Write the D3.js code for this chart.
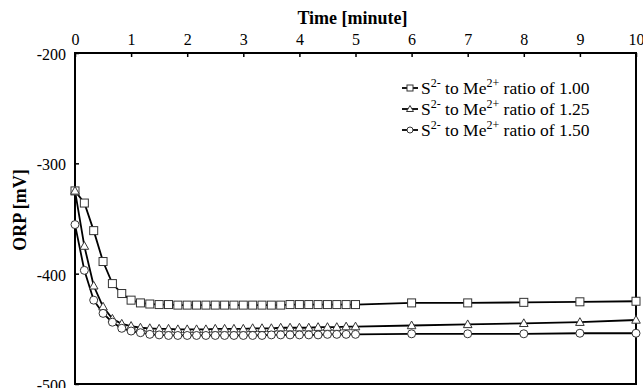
<!DOCTYPE html>
<html>
<head>
<meta charset="utf-8">
<script src="https://cdn.jsdelivr.net/npm/d3@7"></script>
<style>
  body { margin: 0; background: #fff; }
  svg { display: block; font-family: "Liberation Serif", "Times New Roman", serif; }
</style>
</head>
<body>
<svg></svg>
<script>
const width = 643;
const height = 388;

// sampling time in seconds: every 10 s up to 5 min, then every minute
const seconds = [0, 10, 20, 30, 40, 50, 60, 70, 80, 90, 100, 110, 120, 130, 140, 150,
    160, 170, 180, 190, 200, 210, 220, 230, 240, 250, 260, 270, 280, 290, 300,
    360, 420, 480, 540, 600];

const orp100 = [-325, -336, -361, -389, -409, -418, -424, -426.5, -427.5, -428, -428, -428.5, -428.5, -428.5, -428.5, -428.5,
    -428.5, -428.5, -428.5, -428.5, -428.5, -428.5, -428.5, -428, -428, -428, -428, -428, -428, -428, -428,
    -426.5, -426.5, -426, -425.5, -425];
const orp125 = [-325, -375, -411, -430, -441, -445.5, -447.5, -449, -449.5, -450, -450, -450.5, -450.5, -450.5, -450.5, -450,
    -450, -450, -450, -449.5, -449.5, -449.5, -449, -449, -449, -449, -448.5, -448.5, -448.5, -448, -448,
    -447, -446, -445, -444, -442];
const orp150 = [-355.5, -397, -424, -436, -444, -449.5, -452, -453.5, -455, -455.5, -456, -456, -456, -456, -456, -456,
    -456, -456, -456, -456, -456, -455.5, -455.5, -455.5, -455.5, -455.5, -455.5, -455, -455, -455, -455,
    -454.5, -454.5, -454.5, -454, -454];

const seriesNames = ['1.00', '1.25', '1.50'];
const seriesSymbols = ['square', 'triangle', 'circle'];
const xTicks = [0, 1, 2, 3, 4, 5, 6, 7, 8, 9, 10];
const yTicks = [-200, -300, -400, -500];

const series = [orp100, orp125, orp150].map((vals, i) => ({
    name: seriesNames[i],
    symbol: seriesSymbols[i],
    values: vals.map((v, j) => ({ t: seconds[j] / 60, v: v }))
}));

const plot = { left: 75, top: 53, right: 636, bottom: 384 };

const svg = d3.select('svg')
    .attr('width', width)
    .attr('height', height);

const x = d3.scaleLinear().domain([0, 10]).range([plot.left, plot.right]);
const y = d3.scaleLinear().domain([-200, -500]).range([plot.top, plot.bottom]);

// frame
svg.append('rect')
    .attr('x', plot.left)
    .attr('y', plot.top)
    .attr('width', plot.right - plot.left)
    .attr('height', plot.bottom - plot.top)
    .attr('fill', 'none')
    .attr('stroke', '#000')
    .attr('stroke-width', 2);

// top axis, ticks pointing inside
const xAxis = svg.append('g')
    .attr('transform', `translate(0,${plot.top})`)
    .call(d3.axisTop(x).tickValues(xTicks).tickSizeInner(-4).tickSizeOuter(0).tickPadding(8));
xAxis.select('.domain').remove();
xAxis.selectAll('line').attr('stroke-width', 1.5);
xAxis.selectAll('text')
    .attr('font-family', 'Liberation Serif')
    .attr('font-size', 16)
    .attr('fill', '#000');

// plain hyphen for negatives, as in the original
const yAxis = svg.append('g')
    .attr('transform', `translate(${plot.left},0)`)
    .call(d3.axisLeft(y).tickValues(yTicks).tickFormat(d => String(d))
        .tickSizeInner(-4).tickSizeOuter(0).tickPadding(9));
yAxis.select('.domain').remove();
yAxis.selectAll('line').attr('stroke-width', 1.5);
yAxis.selectAll('text')
    .attr('font-family', 'Liberation Serif')
    .attr('font-size', 16)
    .attr('fill', '#000')
    .attr('dy', '0.4em');

svg.append('text')
    .attr('x', (plot.left + plot.right) / 2 - 3)
    .attr('y', 24)
    .attr('text-anchor', 'middle')
    .attr('font-weight', 'bold')
    .attr('font-size', 18)
    .text('Time [minute]');

svg.append('text')
    .attr('transform', 'translate(26,210) rotate(-90)')
    .attr('text-anchor', 'middle')
    .attr('font-weight', 'bold')
    .attr('font-size', 18)
    .text('ORP [mV]');

const line = d3.line()
    .x(d => x(d.t))
    .y(d => y(d.v));

const drawSymbol = (sel, symbol) => {
    if (symbol === 'square') {
        sel.append('rect')
            .attr('x', -4).attr('y', -4)
            .attr('width', 8).attr('height', 8);
    } else if (symbol === 'triangle') {
        sel.append('path').attr('d', 'M0,-4.5L4.3,3.2L-4.3,3.2Z');
    } else {
        sel.append('circle').attr('r', 4);
    }
    sel.selectAll('*')
        .attr('fill', '#fff')
        .attr('stroke', '#333')
        .attr('stroke-width', 1);
};

series.forEach(s => {
    svg.append('path')
        .datum(s.values)
        .attr('fill', 'none')
        .attr('stroke', '#000')
        .attr('stroke-width', 1.8)
        .attr('d', line);
});

series.forEach(s => {
    svg.append('g').selectAll('g')
        .data(s.values)
        .enter().append('g')
        .attr('transform', d => `translate(${x(d.t)},${y(d.v)})`)
        .each(function() { drawSymbol(d3.select(this), s.symbol); });
});

// legend
const legend = svg.append('g').attr('transform', 'translate(402,88)');
series.forEach((s, i) => {
    const row = legend.append('g').attr('transform', `translate(0,${i * 21})`);
    row.append('line')
        .attr('x1', 0).attr('x2', 16)
        .attr('y1', 0).attr('y2', 0)
        .attr('stroke', '#000')
        .attr('stroke-width', 1.8);
    const m = row.append('g').attr('transform', 'translate(8,0)');
    if (s.symbol === 'square') {
        m.append('rect').attr('x', -3).attr('y', -3).attr('width', 6).attr('height', 6);
    } else if (s.symbol === 'triangle') {
        m.append('path').attr('d', 'M0,-3.5L3.5,2.5L-3.5,2.5Z');
    } else {
        m.append('circle').attr('r', 3);
    }
    m.selectAll('*').attr('fill', '#fff').attr('stroke', '#333').attr('stroke-width', 1);

    const t = row.append('text')
        .attr('x', 19)
        .attr('y', 6)
        .attr('font-size', 17.5);
    t.append('tspan').text('S');
    t.append('tspan').attr('dy', -7).attr('font-size', 12).text('2-');
    t.append('tspan').attr('dy', 7).text(' to Me');
    t.append('tspan').attr('dy', -7).attr('font-size', 12).text('2+');
    t.append('tspan').attr('dy', 7).text(' ratio of ' + s.name);
});
</script>
</body>
</html>
